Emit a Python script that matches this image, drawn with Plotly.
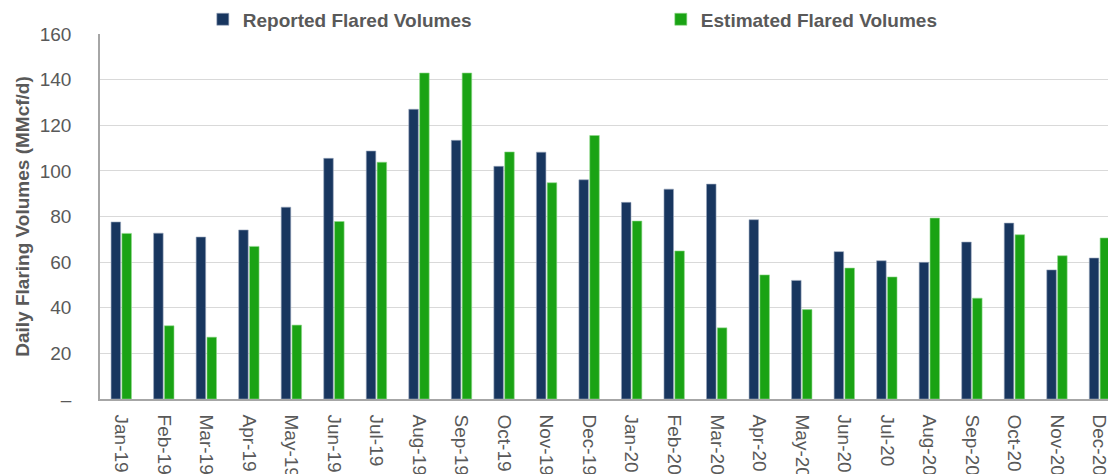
import plotly.graph_objects as go

months = ["Jan-19", "Feb-19", "Mar-19", "Apr-19", "May-19", "Jun-19",
          "Jul-19", "Aug-19", "Sep-19", "Oct-19", "Nov-19", "Dec-19",
          "Jan-20", "Feb-20", "Mar-20", "Apr-20", "May-20", "Jun-20",
          "Jul-20", "Aug-20", "Sep-20", "Oct-20", "Nov-20", "Dec-20"]

reported = [77.6, 72.7, 71.0, 74.1, 84.1, 105.5,
            108.7, 127.0, 113.4, 102.0, 108.2, 96.1,
            86.2, 92.0, 94.2, 78.6, 52.0, 64.6,
            60.6, 59.9, 68.8, 77.1, 56.6, 61.8]

estimated = [72.6, 32.1, 27.1, 66.9, 32.4, 77.8,
             103.8, 142.9, 142.9, 108.3, 94.8, 115.5,
             78.0, 64.9, 31.2, 54.4, 39.2, 57.4,
             53.5, 79.3, 44.2, 72.0, 62.8, 70.6]

y_tickvals = [0, 20, 40, 60, 80, 100, 120, 140, 160]
y_ticktext = ["–", "20", "40", "60", "80", "100", "120", "140", "160"]

FONT = "Arial, Liberation Sans, sans-serif"
GRAY = "#595959"

fig = go.Figure()
fig.add_trace(go.Bar(x=months, y=reported, name="Reported Flared Volumes",
                     marker=dict(color="#18365f", line=dict(width=0.6, color="#9aa8bd"))))
fig.add_trace(go.Bar(x=months, y=estimated, name="Estimated Flared Volumes",
                     marker=dict(color="#1aa314", line=dict(width=0.6, color="#8fd88a"))))

fig.update_layout(
    width=1108, height=474,
    margin=dict(l=100, r=0, t=34, b=75, autoexpand=False),
    paper_bgcolor="white", plot_bgcolor="white",
    barmode="group", bargap=0.49, bargroupgap=0.12,
    font=dict(family=FONT, color=GRAY, size=19),
    legend=dict(orientation="h", x=0.102, xanchor="left", y=1.04, yanchor="middle",
                font=dict(family=FONT, size=19, color=GRAY, weight="bold"),
                entrywidth=413, entrywidthmode="pixels", bgcolor="rgba(0,0,0,0)"),
    showlegend=True,
)

fig.update_xaxes(
    type="category", range=[-0.5, 23.2], tickangle=90,
    tickfont=dict(family=FONT, size=19, color=GRAY),
    showline=True, linecolor="#a6a6a6", linewidth=1.5,
    showgrid=False, ticks="", ticklabelstandoff=10, automargin=False,
)
fig.update_yaxes(
    range=[0, 160], tickvals=y_tickvals, ticktext=y_ticktext,
    tickfont=dict(family=FONT, size=19, color=GRAY),
    showline=True, linecolor="#a6a6a6", linewidth=1.5,
    showgrid=True, gridcolor="#d9d9d9", gridwidth=1.3,
    ticks="", ticklabelstandoff=23, zeroline=False, automargin=False,
    title=dict(text="<b>Daily Flaring Volumes (MMcf/d)</b>",
               font=dict(family=FONT, size=19, color=GRAY), standoff=5),
)

fig.write_html("out.html")
